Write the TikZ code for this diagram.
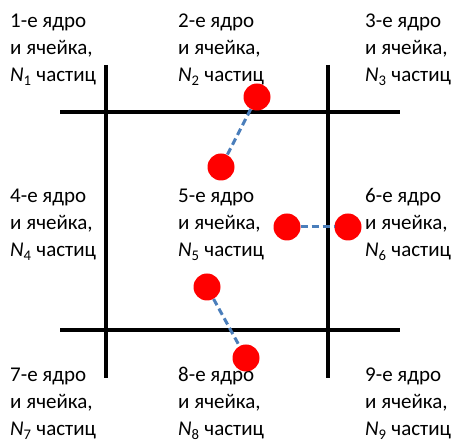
\documentclass[tikz,border=0pt]{standalone}
\usepackage{fontspec}
\setmainfont{Carlito}
\definecolor{linkblue}{HTML}{4A7EBB}
\begin{document}
\begin{tikzpicture}[x=1pt,y=-1pt,
  gridline/.style={line width=4pt,black},
  particle/.style={circle,fill=red,draw=none,minimum size=27pt,inner sep=0pt},
  link/.style={linkblue,line width=3pt,dash pattern=on 7pt off 4pt},
  cell/.style={anchor=base west,align=left,inner sep=0pt,font=\fontsize{21}{27}\selectfont}]
\useasboundingbox (0,0) rectangle (456,443);
% grid
\coordinate (v1t) at (106,65); \coordinate (v1b) at (106,378);
\coordinate (v2t) at (328,65); \coordinate (v2b) at (328,378);
\coordinate (h1l) at (60,112); \coordinate (h1r) at (400,112);
\coordinate (h2l) at (60,330); \coordinate (h2r) at (400,330);
\draw[gridline] (v1t) -- (v1b);
\draw[gridline] (v2t) -- (v2b);
\draw[gridline] (h1l) -- (h1r);
\draw[gridline] (h2l) -- (h2r);
% texts (anchored at the baseline of the last line)
\node[cell] (c1) at (10,82) {1-е ядро\\и ячейка,\\\textit{N}\textsubscript{1} частиц};
\node[cell] (c2) at (178,82) {2-е ядро\\и ячейка,\\\textit{N}\textsubscript{2} частиц};
\node[cell] (c3) at (365,82) {3-е ядро\\и ячейка,\\\textit{N}\textsubscript{3} частиц};
\node[cell] (c4) at (10,257) {4-е ядро\\и ячейка,\\\textit{N}\textsubscript{4} частиц};
\node[cell] (c5) at (178,257) {5-е ядро\\и ячейка,\\\textit{N}\textsubscript{5} частиц};
\node[cell] (c6) at (365,257) {6-е ядро\\и ячейка,\\\textit{N}\textsubscript{6} частиц};
\node[cell] (c7) at (10,436) {7-е ядро\\и ячейка,\\\textit{N}\textsubscript{7} частиц};
\node[cell] (c8) at (178,436) {8-е ядро\\и ячейка,\\\textit{N}\textsubscript{8} частиц};
\node[cell] (c9) at (365,436) {9-е ядро\\и ячейка,\\\textit{N}\textsubscript{9} частиц};
% particles
\node[particle] (p1) at (257,97) {};
\node[particle] (p2) at (221,167) {};
\node[particle] (p3) at (287,227) {};
\node[particle] (p4) at (348,227) {};
\node[particle] (p5) at (207,287) {};
\node[particle] (p6) at (246,358) {};
\draw[link] (p1) -- (p2);
\draw[link] (p3) -- (p4);
\draw[link] (p5) -- (p6);
\end{tikzpicture}
\end{document}
